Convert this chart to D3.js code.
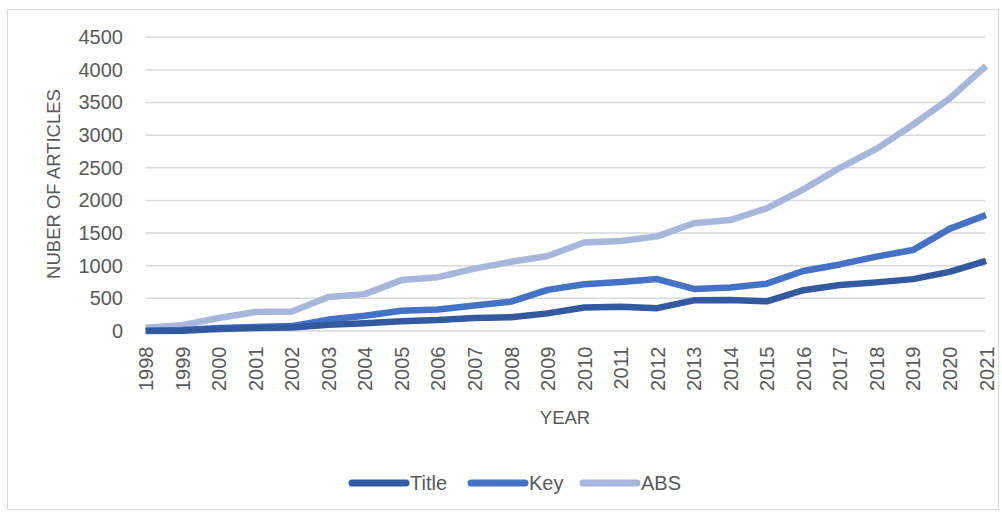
<!DOCTYPE html>
<html><head><meta charset="utf-8">
<script src="https://cdn.jsdelivr.net/npm/d3@7"></script>
<style>
html,body{margin:0;padding:0;background:#fff;}
text{font-family:"Liberation Sans",Arial,sans-serif;fill:#595959;}
</style></head>
<body>
<svg id="c" width="1002" height="515"></svg>
<script>
const years = ["1998","1999","2000","2001","2002","2003","2004","2005","2006","2007","2008","2009","2010","2011","2012","2013","2014","2015","2016","2017","2018","2019","2020","2021"];
const title = [0,5,30,45,55,95,120,150,168,200,210,270,360,370,350,470,475,455,625,705,745,795,905,1075];
const key   = [5,15,45,60,75,175,235,310,330,390,450,630,715,750,795,645,665,725,920,1020,1140,1240,1565,1775];
const abs   = [50,90,200,290,300,520,565,780,825,955,1060,1150,1355,1380,1450,1650,1700,1880,2170,2500,2790,3160,3560,4060];
const yTicks = [0,500,1000,1500,2000,2500,3000,3500,4000,4500];
const seriesNames = ["Title","Key","ABS"];
const colors = ["#335AA1","#4472C4","#A7B6DB"];

const svg = d3.select("#c");
svg.append("rect").attr("x",7.5).attr("y",9.5).attr("width",991).attr("height",500)
  .attr("fill","#fff").attr("stroke","#D9D9D9").attr("stroke-width",1);

const x = d3.scalePoint().domain(years).range([145.7, 986]);
const y = d3.scaleLinear().domain([0,4500]).range([331, 37.3]);

// gridlines
svg.append("g").selectAll("line").data(yTicks).join("line")
  .attr("x1",145.7).attr("x2",985).attr("y1",d=>y(d)).attr("y2",d=>y(d))
  .attr("stroke","#D9D9D9").attr("stroke-width",1.5);

// y axis labels
const yAxis = d3.axisLeft(y).tickValues(yTicks).tickFormat(d3.format("d")).tickSize(0).tickPadding(0);
const gy = svg.append("g").attr("transform","translate(123,0)").call(yAxis);
gy.select(".domain").remove();
gy.selectAll("text").attr("font-size",20).attr("fill","#595959")
  .style("font-family","'Liberation Sans',Arial,sans-serif");

// x axis labels
const xAxis = d3.axisBottom(x).tickSize(0).tickPadding(0);
const gx = svg.append("g").attr("transform","translate(0,346.5)").call(xAxis);
gx.select(".domain").remove();
gx.selectAll("text").attr("font-size",20).attr("fill","#595959")
  .style("font-family","'Liberation Sans',Arial,sans-serif")
  .attr("transform","rotate(-90)").attr("text-anchor","end")
  .attr("x",0).attr("y",0).attr("dy","0.35em");

// lines
const data = [title,key,abs];
const line = d3.line().x((d,i)=>x(years[i])).y(d=>y(d));
[2,1,0].forEach(k=>{
  svg.append("path").datum(data[k]).attr("d",line)
    .attr("fill","none").attr("stroke",colors[k]).attr("stroke-width",6.5)
    .attr("stroke-linejoin","round").attr("stroke-linecap","butt");
});

// axis titles
svg.append("text").attr("transform","translate(60,184) rotate(-90)")
  .attr("text-anchor","middle").attr("font-size",18.5).text("NUBER OF ARTICLES");
svg.append("text").attr("x",565).attr("y",423.5).attr("text-anchor","middle")
  .attr("font-size",18.5).text("YEAR");

// legend
const legX = [352,471,583];
const lg = svg.append("g");
seriesNames.forEach((n,i)=>{
  lg.append("line").attr("x1",legX[i]).attr("x2",legX[i]+54).attr("y1",483).attr("y2",483)
    .attr("stroke",colors[i]).attr("stroke-width",7).attr("stroke-linecap","round");
  lg.append("text").attr("x",legX[i]+58).attr("y",490).attr("font-size",20).text(n);
});
</script>
</body></html>
